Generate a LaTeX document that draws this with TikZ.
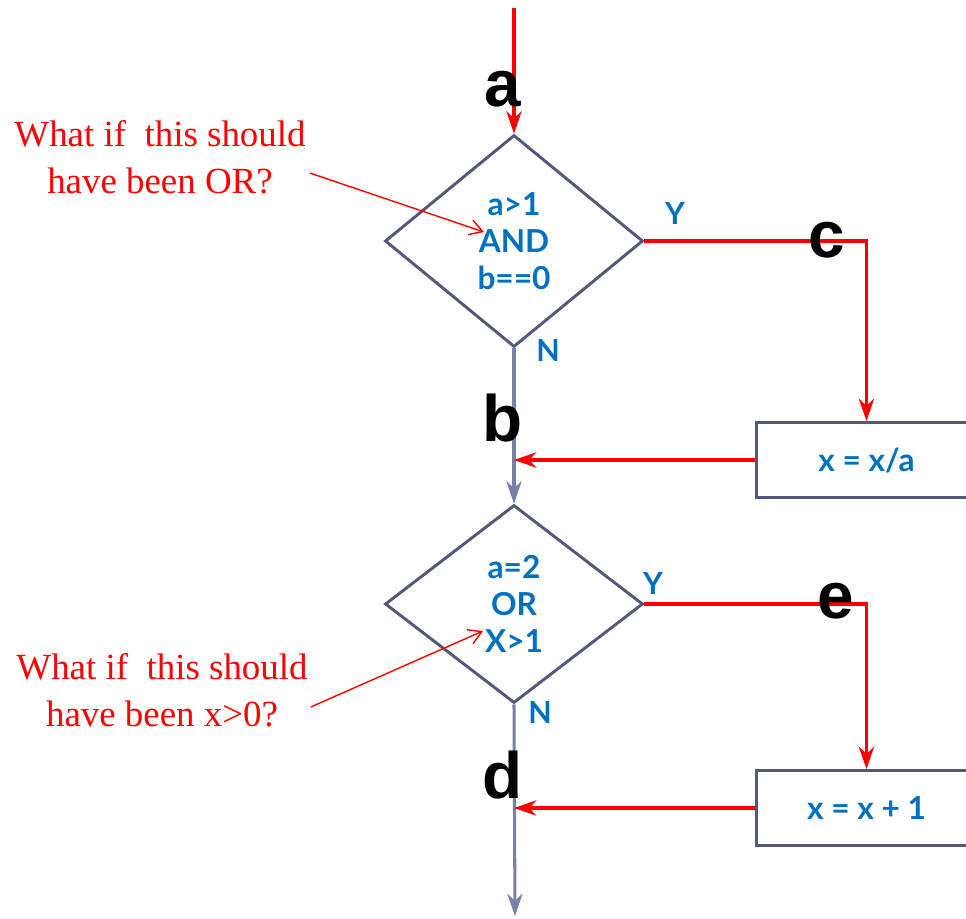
\documentclass[tikz,border=0pt]{standalone}
\usepackage{fontspec}
\setmainfont{Liberation Serif}
\newfontfamily\markfont{Liberation Sans}
\newfontfamily\condfont{Lato}
\usetikzlibrary{shapes.geometric,arrows.meta,positioning}
\definecolor{edge}{RGB}{84,88,122}
\definecolor{flow}{RGB}{118,128,168}
\definecolor{cond}{RGB}{0,112,192}
\tikzstyle{decision} = [diamond, draw=edge, line width=2.5pt,
minimum width=7.74cm, inner sep=0pt, align=center, text=cond,
font=\condfont\bfseries\fontsize{27}{31.5}\selectfont]
\tikzstyle{action} = [rectangle, draw=edge, line width=2.5pt,
minimum width=6.6cm, minimum height=2.25cm, anchor=west, text=cond,
font=\condfont\bfseries\fontsize{27}{30}\selectfont]
\tikzstyle{pathlabel} = [inner sep=0pt, font=\markfont\bfseries\fontsize{56}{60}\selectfont]
\tikzstyle{yn} = [inner sep=0pt, text=cond, font=\condfont\bfseries\fontsize{26}{30}\selectfont]
\tikzstyle{note} = [inner sep=0pt, align=center, text=red, font=\fontsize{31.5}{40}\selectfont]

\begin{document}
\begin{tikzpicture}[
    x=0.03cm, y=-0.03cm, % one unit is one pixel of the slide
    >={Stealth[length=19pt, width=13pt, inset=6pt]},
    redline/.style={draw=red, line width=2.6pt},
    flowline/.style={draw=flow, line width=2.6pt},
    noteline/.style={draw=red, line width=1.2pt, -{Straight Barb[length=11pt, width=13pt]}},
  ]
    \clip (0,0) rectangle (966,919);

    % the two conditions
    \node[decision, minimum height=6.36cm] (d1) at (514,241) {a>1\\AND\\b==0};
    \node[decision, minimum height=5.94cm] (d2) at (514,604) {a=2\\OR\\X>1};

    % statements taken on the Y branches
    \node[action] (box1) at (755,460) {x = x/a};
    \node[action] (box2) at (755,808) {x = x + 1};

    \coordinate (entry) at (514,8);
    \coordinate (exit)  at (515,916);

    % control flow
    \draw[flowline, ->] (d1.south) -- (d2.north);
    \draw[flowline, ->] (d2.south) -- (exit);
    \draw[redline, ->] (entry) -- (d1.north);
    \draw[redline, ->] (d1.east) -| (box1.north);
    \draw[redline, ->] (box1.west) -- (box1.west -| d1.south);
    \draw[redline, ->] (d2.east) -| (box2.north);
    \draw[redline, ->] (box2.west) -- (box2.west -| d2.south);

    \node[yn] (y1) at (675,213) {Y};
    \node[yn] (n1) at (548,350) {N};
    \node[yn] (y2) at (653,583) {Y};
    \node[yn] (n2) at (540,712) {N};

    % path labels
    \node[pathlabel] (pa) at (503,89)  {a};
    \node[pathlabel] (pb) at (503,418) {b};
    \node[pathlabel] (pc) at (827,240) {c};
    \node[pathlabel] (pd) at (503,775) {d};
    \node[pathlabel] (pe) at (836,601) {e};

    % questions
    \node[note] (q1) at (160,157) {What if~ this should\\have been OR?};
    \node[note] (q2) at (162,690) {What if~ this should\\have been x>0?};
    \coordinate (t1) at (484,232);
    \coordinate (t2) at (483,631);
    \draw[noteline] ([shift={(4,16)}]q1.east) -- (t1);
    \draw[noteline] ([shift={(3,17)}]q2.east) -- (t2);
  \end{tikzpicture}
\end{document}
